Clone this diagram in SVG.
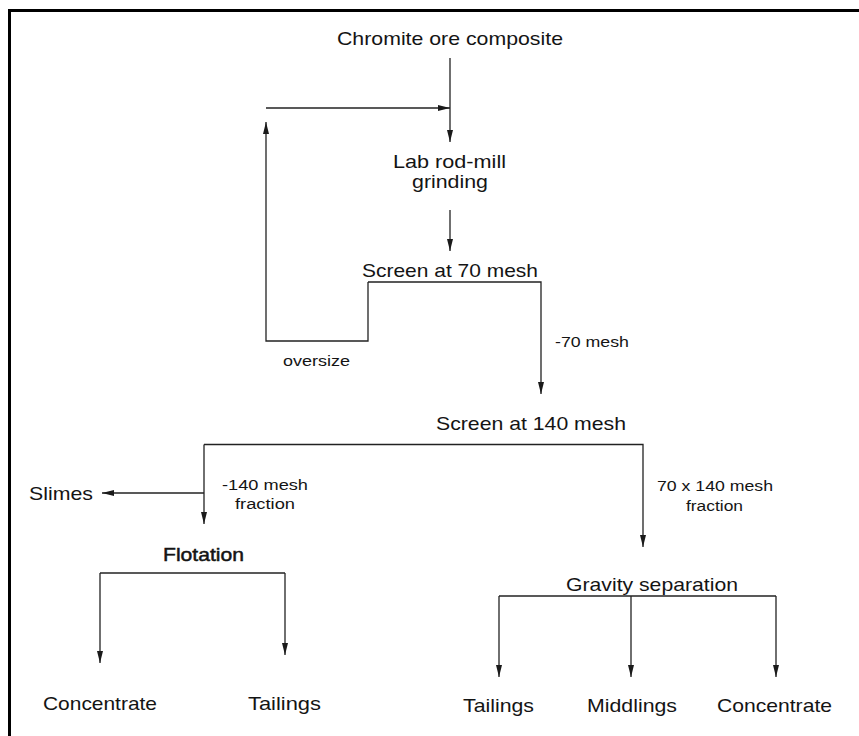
<svg xmlns="http://www.w3.org/2000/svg" width="859" height="736" viewBox="0 0 859 736">
<style>
text{font-family:"Liberation Sans",Arial,sans-serif;fill:#141414}
.m{font-size:19px}
.s{font-size:15.5px}
.ln{fill:none;stroke:#222;stroke-width:1.3}
.ar{marker-end:url(#ah)}
</style>
<defs>
<marker id="ah" markerUnits="userSpaceOnUse" markerWidth="12" markerHeight="7" refX="12" refY="3.5" orient="auto">
<path d="M0,0.5 L12,3.5 L0,6.5 z" fill="#1a1a1a"/>
</marker>
</defs>
<rect width="859" height="736" fill="#fff"/>
<path d="M9.5,736 V10.5 H859" fill="none" stroke="#000" stroke-width="3"/>
<g id="connectors">
<path class="ln ar" d="M450,58 V142"/>
<path class="ln ar" d="M266,108 H450"/>
<path class="ln ar" d="M450,210 V251"/>
<path class="ln ar" d="M368,282 V341 H266 V122"/>
<path class="ln ar" d="M368,282 H541 V394"/>
<path class="ln ar" d="M204,444.5 H643 V547"/>
<path class="ln ar" d="M204,444.5 V524"/>
<path class="ln ar" d="M204,493 H102"/>
<path class="ln" d="M100,573 H285"/>
<path class="ln ar" d="M100,573 V663"/>
<path class="ln ar" d="M285,573 V655"/>
<path class="ln" d="M499,596 H776"/>
<path class="ln ar" d="M499,596 V677"/>
<path class="ln ar" d="M631,596 V677"/>
<path class="ln ar" d="M776,596 V677"/>
</g>
<g id="chromite"><text class="m" x="337" y="45" textLength="226" lengthAdjust="spacingAndGlyphs">Chromite ore composite</text></g>
<g id="grinding">
<text class="m" x="393" y="168" textLength="113" lengthAdjust="spacingAndGlyphs">Lab rod-mill</text>
<text class="m" x="412" y="188" textLength="76" lengthAdjust="spacingAndGlyphs">grinding</text>
</g>
<g id="screen70"><text class="m" x="362" y="277" textLength="176" lengthAdjust="spacingAndGlyphs">Screen at 70 mesh</text></g>
<g id="oversize"><text class="s" x="283" y="366" textLength="67" lengthAdjust="spacingAndGlyphs">oversize</text></g>
<g id="minus70"><text class="s" x="555" y="347" textLength="74" lengthAdjust="spacingAndGlyphs">-70 mesh</text></g>
<g id="screen140"><text class="m" x="436" y="430" textLength="190" lengthAdjust="spacingAndGlyphs">Screen at 140 mesh</text></g>
<g id="slimes"><text class="m" x="29" y="500" textLength="64" lengthAdjust="spacingAndGlyphs">Slimes</text></g>
<g id="minus140">
<text class="s" x="222" y="490" textLength="86" lengthAdjust="spacingAndGlyphs">-140 mesh</text>
<text class="s" x="235" y="509" textLength="60" lengthAdjust="spacingAndGlyphs">fraction</text>
</g>
<g id="x70x140">
<text class="s" x="657" y="491" textLength="116" lengthAdjust="spacingAndGlyphs">70 x 140 mesh</text>
<text class="s" x="686" y="511" textLength="57" lengthAdjust="spacingAndGlyphs">fraction</text>
</g>
<g id="flotation"><text class="m" x="163" y="561" textLength="81" lengthAdjust="spacingAndGlyphs" style="stroke:#141414;stroke-width:0.5">Flotation</text></g>
<g id="flot-concentrate"><text class="m" x="43" y="710" textLength="114" lengthAdjust="spacingAndGlyphs">Concentrate</text></g>
<g id="flot-tailings"><text class="m" x="248" y="710" textLength="73" lengthAdjust="spacingAndGlyphs">Tailings</text></g>
<g id="gravity"><text class="m" x="566" y="591" textLength="172" lengthAdjust="spacingAndGlyphs">Gravity separation</text></g>
<g id="grav-tailings"><text class="m" x="463" y="712" textLength="71" lengthAdjust="spacingAndGlyphs">Tailings</text></g>
<g id="grav-middlings"><text class="m" x="587" y="712" textLength="90" lengthAdjust="spacingAndGlyphs">Middlings</text></g>
<g id="grav-concentrate"><text class="m" x="717" y="712" textLength="115" lengthAdjust="spacingAndGlyphs">Concentrate</text></g>
</svg>
